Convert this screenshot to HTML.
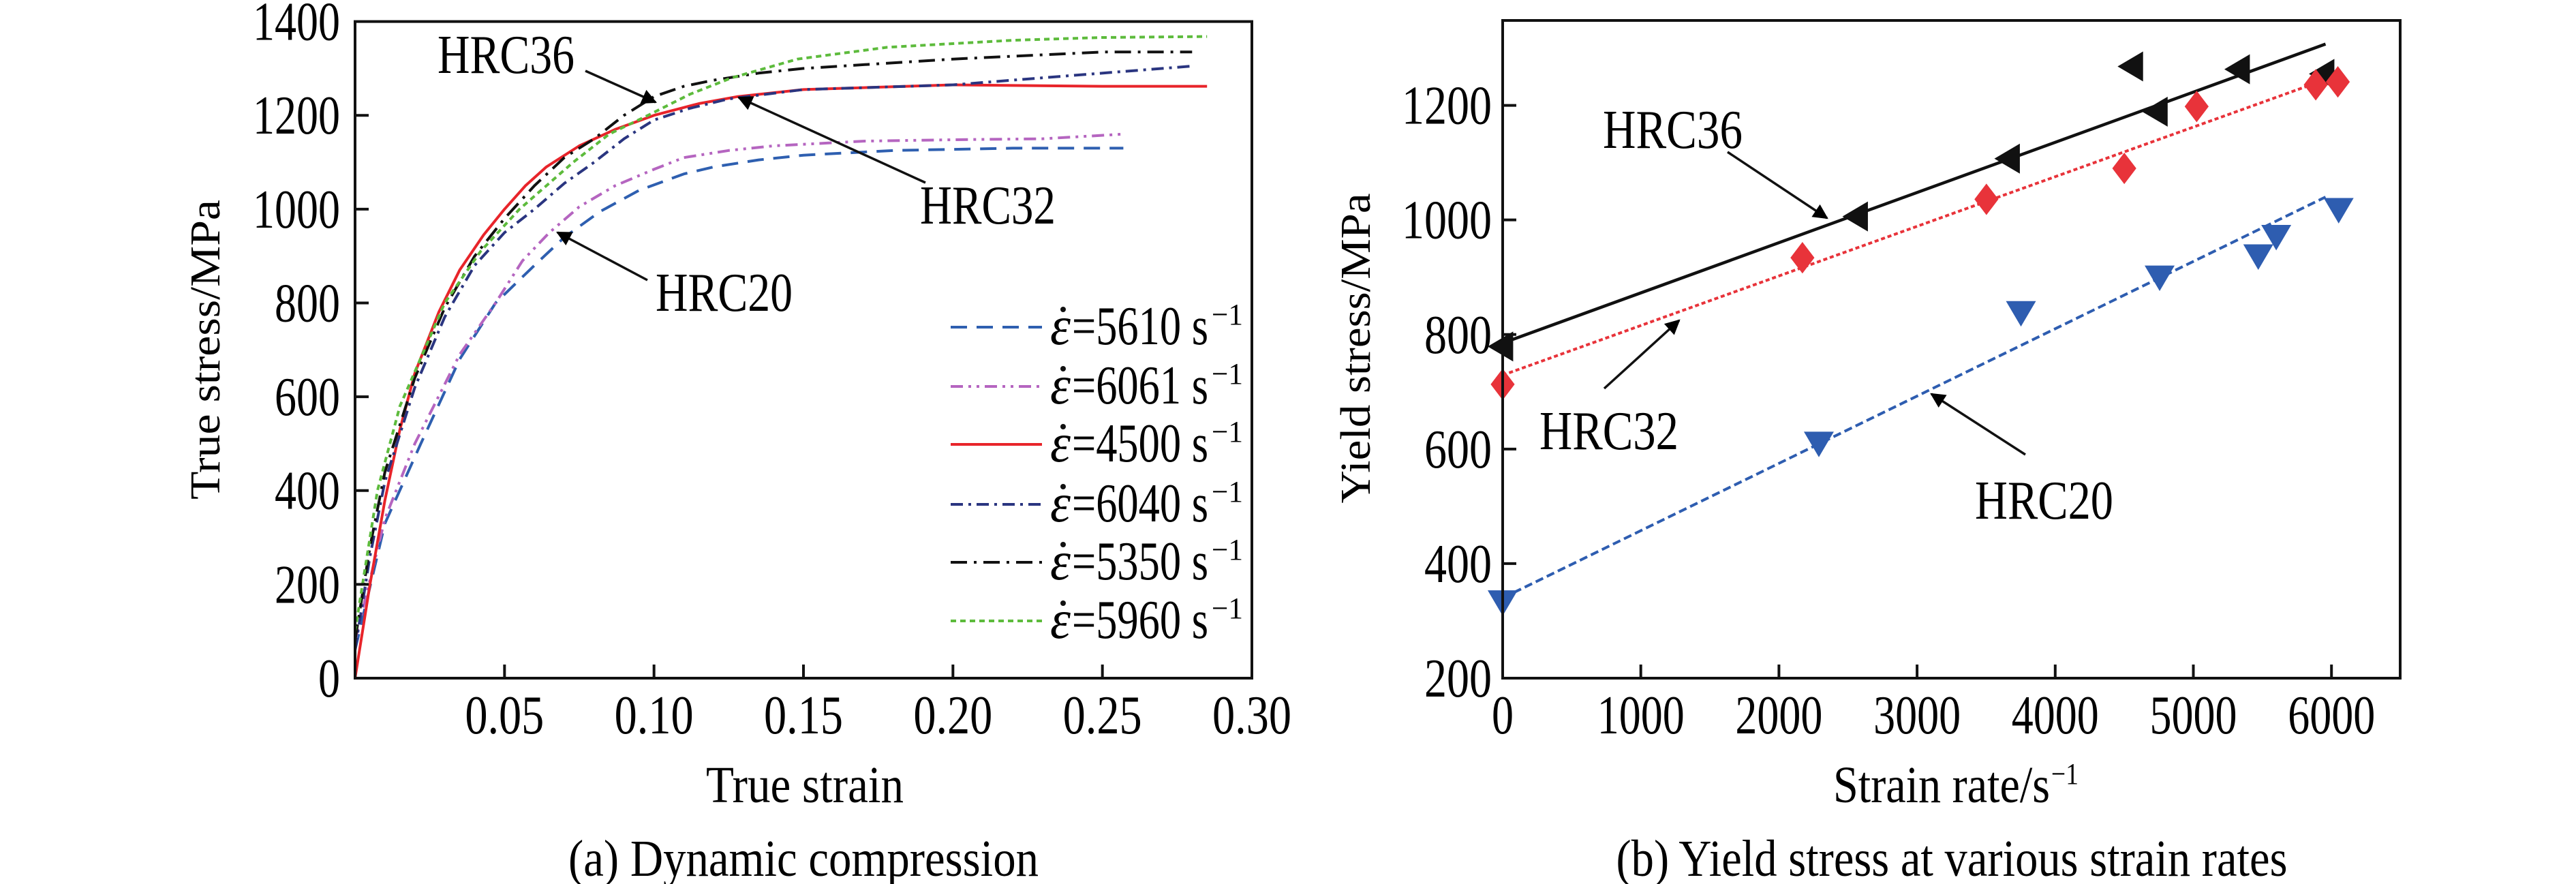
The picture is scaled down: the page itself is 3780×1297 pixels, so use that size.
<!DOCTYPE html>
<html><head><meta charset="utf-8"><style>
html,body{margin:0;padding:0;background:#fff;}
svg{display:block;font-family:"Liberation Serif",serif;}
</style></head><body>
<svg id="fig" width="3780" height="1297" viewBox="0 0 3780 1297" xmlns="http://www.w3.org/2000/svg">
<defs>
<marker id="ah" viewBox="0 0 10 10" refX="9" refY="5" markerWidth="34" markerHeight="22" orient="auto-start-reverse" markerUnits="userSpaceOnUse"><path d="M0,0 L10,5 L0,10 z" fill="#000"/></marker>
</defs>
<g id="chartA"></g>
<g id="chartB"></g>
</svg>
<script>
// ---------- Chart A data ----------
const aSeriesNames = ["5610","6061","4500","6040","5350","5960"];
const aColors = ["#2E5FB0","#B565C0","#E8242A","#2A3580","#111111","#5DBB3C"];
const aDash = ["24,14","18,8,4,8,4,8","","18,8,4,8","24,10,4,10","8,6"];
const aStrain5610 = [0,0.01,0.022,0.035,0.047,0.06,0.07,0.082,0.095,0.11,0.12,0.135,0.15,0.18,0.22,0.257];
const aStress5610 = [60,330,500,680,800,880,940,995,1040,1075,1090,1105,1115,1125,1130,1130];
const aStrain6061 = [0,0.01,0.02,0.035,0.047,0.056,0.065,0.075,0.087,0.1,0.11,0.125,0.14,0.17,0.2,0.23,0.257];
const aStress6061 = [80,340,500,690,800,890,950,1005,1050,1085,1110,1125,1135,1145,1148,1150,1160];
const aStrain4500 = [0,0.005,0.01,0.015,0.02,0.028,0.035,0.043,0.05,0.057,0.064,0.075,0.087,0.1,0.115,0.128,0.15,0.2,0.25,0.285];
const aStress4500 = [0,200,380,530,650,780,870,945,1000,1050,1090,1135,1170,1200,1225,1240,1255,1265,1262,1262];
const aStrain6040 = [0,0.005,0.01,0.02,0.03,0.04,0.05,0.06,0.07,0.08,0.09,0.1,0.112,0.125,0.15,0.2,0.24,0.28];
const aStress6040 = [60,260,420,620,770,880,950,1000,1055,1100,1150,1190,1215,1235,1255,1265,1285,1305];
const aStrain5350 = [0,0.005,0.01,0.02,0.03,0.04,0.05,0.06,0.07,0.08,0.09,0.1,0.11,0.12,0.135,0.15,0.2,0.25,0.28];
const aStress5350 = [80,280,440,640,790,900,980,1050,1110,1150,1200,1240,1262,1275,1290,1300,1320,1335,1335];
const aStrain5960 = [0,0.0075,0.015,0.03,0.042,0.055,0.073,0.085,0.098,0.112,0.126,0.148,0.178,0.22,0.25,0.285];
const aStress5960 = [100,400,580,800,910,1000,1100,1160,1200,1245,1280,1320,1345,1360,1366,1368];
const aXTicks = [0.05,0.10,0.15,0.20,0.25,0.30];
const aXTickLabels = ["0.05","0.10","0.15","0.20","0.25","0.30"];
const aYTicks = [0,200,400,600,800,1000,1200,1400];
// ---------- Chart B data ----------
const bXTicks = [0,1000,2000,3000,4000,5000,6000];
const bYTicks = [200,400,600,800,1000,1200];
const b36Rate = [0,2568,3668,4560,4738,5333,5945];
const b36Stress = [779,1006,1107,1268,1189,1263,1255];
const b32Rate = [0,2170,3502,4500,5024,5886,6046];
const b32Stress = [713,934,1036,1090,1198,1236,1241];
const b20Rate = [0,2289,3752,4756,5470,5600,6052];
const b20Stress = [335,612,840,902,939,973,1020];
const bFitRate = [0,5957];
const bFit36 = [785,1307];
const bFit32 = [729,1245];
const bFit20 = [340,1040];

const NS="http://www.w3.org/2000/svg";
function mk(parent,tag,attrs,text){const e=document.createElementNS(NS,tag);for(const k in attrs)e.setAttribute(k,attrs[k]);if(text!==undefined)e.textContent=text;parent.appendChild(e);return e;}
const FS=80;

// ---------- Chart A ----------
const A=document.getElementById('chartA');
const ax0=521, ax1=1837, ay0=995, ay1=31.6;
const axs=v=>ax0+(v/0.30)*(ax1-ax0);
const ays=v=>ay0-(v/1400)*(ay0-ay1);
const aStrains=[aStrain5610,aStrain6061,aStrain4500,aStrain6040,aStrain5350,aStrain5960];
const aStresses=[aStress5610,aStress6061,aStress4500,aStress6040,aStress5350,aStress5960];
for(let s=0;s<6;s++){
  let d="";
  aStrains[s].forEach((x,i)=>{d+=(i?"L":"M")+axs(x).toFixed(1)+","+ays(aStresses[s][i]).toFixed(1);});
  const p=mk(A,'path',{d:d,fill:'none',stroke:aColors[s],'stroke-width':4,'stroke-dasharray':aDash[s]||'none','stroke-linejoin':'round'});
  
  
}
const aBox=mk(A,'rect',{x:ax0,y:ay1,width:ax1-ax0,height:ay0-ay1,fill:'none',stroke:'#111','stroke-width':4});


aXTicks.forEach((t,i)=>{
  const x=axs(t);
  if(i<aXTicks.length-1){const l=mk(A,'line',{x1:x,y1:ay0,x2:x,y2:ay0-20,stroke:'#111','stroke-width':4});
  
  }
  const tx=mk(A,'text',{x:x,y:1076,'font-size':FS,'text-anchor':'middle',textLength:116,lengthAdjust:'spacingAndGlyphs'},aXTickLabels[i]);
  
  
});
aYTicks.forEach(t=>{
  const y=ays(t);
  if(t>0&&t<1400){const l=mk(A,'line',{x1:ax0,y1:y,x2:ax0+20,y2:y,stroke:'#111','stroke-width':4});
  
  }
  const s=String(t);
  const tx=mk(A,'text',{x:499,y:y+27,'font-size':FS,'text-anchor':'end',textLength:s.length*32,lengthAdjust:'spacingAndGlyphs'},s);
  
  
});
let t;
t=mk(A,'text',{x:0,y:0,'font-size':62,'text-anchor':'middle',transform:'translate(322,513) rotate(-90)',textLength:440,lengthAdjust:'spacingAndGlyphs'},'True stress/MPa');

t=mk(A,'text',{x:1181,y:1177,'font-size':76,'text-anchor':'middle',textLength:290,lengthAdjust:'spacingAndGlyphs'},'True strain');

t=mk(A,'text',{x:1179,y:1285,'font-size':76,'text-anchor':'middle',textLength:690,lengthAdjust:'spacingAndGlyphs'},'(a) Dynamic compression');

// legend
const legY=[480,567,652,740,825,911];
for(let s=0;s<6;s++){
  const g=mk(A,'g',{});
  
  
  mk(g,'line',{x1:1395,y1:legY[s],x2:1529,y2:legY[s],stroke:aColors[s],'stroke-width':4,'stroke-dasharray':aDash[s]||'none'});
  mk(g,'text',{x:1541,y:legY[s]+25,'font-size':FS,'font-style':'italic',textLength:30,lengthAdjust:'spacingAndGlyphs'},'\u03B5');
  mk(g,'circle',{cx:1560,cy:legY[s]-26,r:4,fill:'#111'});
  mk(g,'text',{x:1573,y:legY[s]+25,'font-size':FS,textLength:200,lengthAdjust:'spacingAndGlyphs'},'='+aSeriesNames[s]+' s');
  mk(g,'text',{x:1778,y:legY[s]-4,'font-size':44,textLength:46,lengthAdjust:'spacingAndGlyphs'},'\u22121');
}
// annotations
function ann(G,label,tx,ty,w,x1,y1,x2,y2,nm){
  const tt=mk(G,'text',{x:tx,y:ty+26,'font-size':FS,textLength:w,lengthAdjust:'spacingAndGlyphs'},label);
  
  const l=mk(G,'line',{x1:x1,y1:y1,x2:x2,y2:y2,stroke:'#111','stroke-width':3.5,'marker-end':'url(#ah)'});
  
}
ann(A,'HRC36',642,81,201,859,104,962,150,'hrc36-a');
ann(A,'HRC32',1350,302,199,1358,268,1084,143,'hrc32-a');
ann(A,'HRC20',962,430,201,950,411,818,341,'hrc20-a');

// ---------- Chart B ----------
const B=document.getElementById('chartB');
const bx0=2205, bx1=3522, by0=995, by1=30;
const bxs=v=>bx0+v*0.2027;
const bys=v=>by0-(v-200)*0.8404;
function line(xs,ys,color,dash,nm){
  const l=mk(B,'line',{x1:bxs(xs[0]),y1:bys(ys[0]),x2:bxs(xs[1]),y2:bys(ys[1]),stroke:color,'stroke-width':dash?4:4.5,'stroke-dasharray':dash||'none'});
  
}
line(bFitRate,bFit36,'#111','','fit-line-hrc36');
line(bFitRate,bFit32,'#E8333A','6,4','fit-line-hrc32');
line(bFitRate,bFit20,'#2E5DB0','12,6','fit-line-hrc20');
const r=22;
b36Rate.forEach((v,i)=>{const x=bxs(v),y=bys(b36Stress[i]);
  const p=mk(B,'path',{d:`M${x-r},${y}L${x+r*0.7},${y-r}L${x+r*0.7},${y+r}Z`,fill:'#111'});
  });
b32Rate.forEach((v,i)=>{const x=bxs(v),y=bys(b32Stress[i]);
  const p=mk(B,'path',{d:`M${x},${y-r*1.05}L${x+r*0.8},${y}L${x},${y+r*1.05}L${x-r*0.8},${y}Z`,fill:'#E8333A'});
  });
b20Rate.forEach((v,i)=>{const x=bxs(v),y=bys(b20Stress[i]);
  const p=mk(B,'path',{d:`M${x-r},${y-r*0.7}L${x+r},${y-r*0.7}L${x},${y+r}Z`,fill:'#2E5DB0'});
  });
const bBox=mk(B,'rect',{x:bx0,y:by1,width:bx1-bx0,height:by0-by1,fill:'none',stroke:'#111','stroke-width':4});


bXTicks.forEach(v=>{
  const x=bxs(v);
  if(v>0){const l=mk(B,'line',{x1:x,y1:by0,x2:x,y2:by0-20,stroke:'#111','stroke-width':4});
  }
  const s=String(v);
  const tx=mk(B,'text',{x:x,y:1076,'font-size':FS,'text-anchor':'middle',textLength:s.length*32,lengthAdjust:'spacingAndGlyphs'},s);
  
});
bYTicks.forEach(v=>{
  const y=bys(v);
  if(v>200){const l=mk(B,'line',{x1:bx0,y1:y,x2:bx0+20,y2:y,stroke:'#111','stroke-width':4});
  }
  const s=String(v);
  const tx=mk(B,'text',{x:2189,y:y+27,'font-size':FS,'text-anchor':'end',textLength:s.length*33,lengthAdjust:'spacingAndGlyphs'},s);
  
});
t=mk(B,'text',{x:0,y:0,'font-size':62,'text-anchor':'middle',transform:'translate(2010,511) rotate(-90)',textLength:455,lengthAdjust:'spacingAndGlyphs'},'Yield stress/MPa');

t=mk(B,'text',{x:2690,y:1177,'font-size':76,textLength:318,lengthAdjust:'spacingAndGlyphs'},'Strain rate/s');

t=mk(B,'text',{x:3010,y:1150,'font-size':44,textLength:40,lengthAdjust:'spacingAndGlyphs'},'\u22121');

t=mk(B,'text',{x:2864,y:1285,'font-size':76,'text-anchor':'middle',textLength:985,lengthAdjust:'spacingAndGlyphs'},'(b) Yield stress at various strain rates');

ann(B,'HRC36',2352,191,205,2535,223,2681,320,'hrc36-b');
ann(B,'HRC32',2259,633,204,2354,570,2464,470,'hrc32-b');
ann(B,'HRC20',2898,735,203,2972,667,2834,578,'hrc20-b');
</script>
</body></html>
